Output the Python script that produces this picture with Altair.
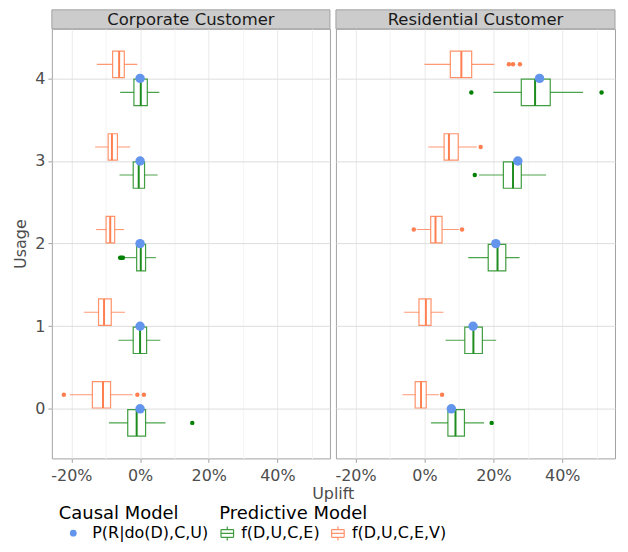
import altair as alt
import pandas as pd

usage = [0, 1, 2, 3, 4]
panel_names = ["Corporate Customer", "Residential Customer"]
model_E = "f(D,U,C,E)"
model_EV = "f(D,U,C,E,V)"
causal_name = "P(R|do(D),C,U)"

# (whisker low, Q1, median, Q3, whisker high) for usage 0..4
corp_E = [(-0.091, -0.036, -0.010, 0.016, 0.074),
          (-0.063, -0.020, 0.000, 0.019, 0.059),
          (-0.044, -0.010, 0.002, 0.016, 0.046),
          (-0.060, -0.020, -0.004, 0.013, 0.051),
          (-0.058, -0.018, 0.002, 0.021, 0.056)]
corp_EV = [(-0.205, -0.139, -0.108, -0.086, -0.022),
           (-0.163, -0.121, -0.105, -0.084, -0.044),
           (-0.128, -0.099, -0.087, -0.074, -0.047),
           (-0.131, -0.093, -0.082, -0.066, -0.029),
           (-0.126, -0.080, -0.061, -0.046, -0.008)]
res_E = [(0.019, 0.068, 0.090, 0.116, 0.173),
         (0.061, 0.117, 0.142, 0.168, 0.208),
         (0.127, 0.185, 0.212, 0.236, 0.276),
         (0.158, 0.229, 0.257, 0.281, 0.353),
         (0.200, 0.281, 0.321, 0.365, 0.460)]
res_EV = [(-0.064, -0.027, -0.010, 0.005, 0.042),
          (-0.059, -0.016, 0.004, 0.019, 0.055),
          (-0.022, 0.018, 0.032, 0.051, 0.100),
          (0.011, 0.057, 0.071, 0.098, 0.152),
          (0.000, 0.075, 0.107, 0.137, 0.203)]

# outliers per usage 0..4
corp_E_out = [[0.152], [], [-0.058, -0.054, -0.050], [], []]
corp_EV_out = [[-0.222, -0.008, 0.011], [], [], [], []]
res_E_out = [[0.195], [], [], [0.146], [0.136, 0.514]]
res_EV_out = [[0.051], [], [-0.031, 0.109], [0.163], [0.245, 0.257, 0.277]]

# causal model estimates per usage 0..4
corp_causal = [0.0, 0.0, 0.0, 0.0, 0.0]
res_causal = [0.078, 0.141, 0.207, 0.271, 0.334]

x_title = "Uplift"
y_title = "Usage"

# ---- build tables ----
OFFSET = {model_E: -0.17, model_EV: 0.17}
HALF = 0.16

box_rows, out_rows, causal_rows = [], [], []
for pname, sets, outs, caus in [
    (panel_names[0], {model_E: corp_E, model_EV: corp_EV}, {model_E: corp_E_out, model_EV: corp_EV_out}, corp_causal),
    (panel_names[1], {model_E: res_E, model_EV: res_EV}, {model_E: res_E_out, model_EV: res_EV_out}, res_causal),
]:
    for m, stats in sets.items():
        for u, (lo, q1, med, q3, hi) in zip(usage, stats):
            yc = u + OFFSET[m]
            box_rows.append(dict(panel=pname, model=m, usage=u, lo=lo, q1=q1, med=med, q3=q3, hi=hi,
                                 y=yc, y_lo=yc - HALF, y_hi=yc + HALF))
        for u, vals in zip(usage, outs[m]):
            for v in vals:
                out_rows.append(dict(panel=pname, omodel=m, usage=u, value=v, y=u + OFFSET[m]))
    for u, v in zip(usage, caus):
        causal_rows.append(dict(panel=pname, cmodel=causal_name, usage=u, value=v))

boxes = pd.DataFrame(box_rows)
outs = pd.DataFrame(out_rows)
causal = pd.DataFrame(causal_rows)

GREEN = "#1E8C1E"
ORANGE = "#FF7F50"
BLUE = "#6495ED"
FONT = "DejaVu Sans"
H = 431
STRIP = 19
WIDTHS = {panel_names[0]: 279, panel_names[1]: 280}

minor_test = "round(datum.value*10) % 2 != 0"
x_values = [-0.2, -0.1, 0.0, 0.1, 0.2, 0.3, 0.4, 0.5]

# legend key: small boxplot glyph built from separate line segments (no fillable area)
box_glyph = ("M-0.9,-0.55H0.9 M-0.9,0.55H0.9 M-0.9,-0.55V0.55 M0.9,-0.55V0.55 "
             "M-0.9,0H0.9 M0,-0.55V-1 M0,0.55V1")

stroke_scale = alt.Scale(domain=[model_E, model_EV], range=[GREEN, ORANGE])
pred_legend = alt.Legend(title="Predictive Model", orient="none", legendX=168, legendY=478,
                         direction="horizontal", columns=2, symbolType=box_glyph, symbolSize=196,
                         symbolStrokeWidth=1.2, symbolFillColor="white", symbolOpacity=0.85,
                         columnPadding=9, labelOffset=6, symbolOffset=0, padding=0, titlePadding=2)
causal_legend = alt.Legend(title="Causal Model", orient="none", legendX=7, legendY=478,
                           direction="horizontal", symbolType="circle", symbolSize=46,
                           labelOffset=11, symbolOffset=6.5, padding=0, titlePadding=2)


def xdef(field):
    axis = alt.Axis(values=x_values, format=".0%", labelPadding=5,
                    labelExpr="(" + minor_test + ") ? '' : replace(datum.label, '\u2212', '-')",
                    gridColor={"condition": {"test": minor_test, "value": "#F4F4F4"}, "value": "#E9E9E9"},
                    tickOpacity={"condition": {"test": minor_test, "value": 0}, "value": 1},
                    title=None)
    return alt.X(field, type="quantitative",
                 scale=alt.Scale(domain=[-0.257, 0.553], nice=False, zero=False), axis=axis)


def ydef(field, first):
    if first:
        axis = alt.Axis(values=usage, title=y_title, titlePadding=6, labelPadding=3)
    else:
        axis = alt.Axis(values=usage, title=None, labels=False, ticks=False)
    return alt.Y(field, type="quantitative",
                 scale=alt.Scale(domain=[-0.6, 4.6], nice=False, zero=False), axis=axis)


def make_panel(name, first):
    b = boxes[boxes.panel == name]
    o = outs[outs.panel == name]
    c = causal[causal.panel == name]
    s = pd.DataFrame({"panel": [name], "xt": [x_title]})
    W = WIDTHS[name]
    stroke = alt.Stroke("model:N", scale=stroke_scale, legend=pred_legend)

    whisk = alt.Chart(b).mark_rule(strokeWidth=1.1, strokeOpacity=0.8).encode(
        x=xdef("lo"), x2="hi", y=ydef("y", first), stroke=stroke)
    box = alt.Chart(b).mark_rect(fill="white", strokeWidth=1.2, strokeOpacity=0.85).encode(
        x=xdef("q1"), x2="q3", y=ydef("y_lo", first), y2="y_hi", stroke=stroke)
    med = alt.Chart(b).mark_rule(strokeWidth=2).encode(
        x=xdef("med"), y=ydef("y_lo", first), y2="y_hi", stroke=stroke)
    outl = alt.Chart(o).mark_circle(size=20, opacity=1).encode(
        x=xdef("value"), y=ydef("y", first),
        fill=alt.Fill("omodel:N", scale=alt.Scale(domain=[model_E, model_EV], range=["#008000", ORANGE]),
                      legend=None))
    cpt = alt.Chart(c).mark_circle(size=90, opacity=1).encode(
        x=xdef("value"), y=ydef("usage", first),
        color=alt.Color("cmodel:N", scale=alt.Scale(domain=[causal_name], range=[BLUE]),
                        legend=causal_legend))
    strip_bg = alt.Chart(s).mark_rect(fill="#CCCCCC", stroke="#A3A3A3", strokeWidth=1).encode(
        x=alt.value(0), x2=alt.value(W), y=alt.value(-STRIP), y2=alt.value(0))
    strip_tx = alt.Chart(s).mark_text(font=FONT, fontSize=16.5, color="#1A1A1A",
                                      align="center", baseline="middle").encode(
        x=alt.value(W / 2), y=alt.value(-STRIP / 2 + 0.5), text="panel:N")
    layers = [whisk, box, med, outl, cpt, strip_bg, strip_tx]
    if first:
        xt = alt.Chart(s).mark_text(font=FONT, fontSize=16, color="#4D4D4D",
                                    align="center", baseline="middle").encode(
            x=alt.value(282.3), y=alt.value(H + 36), text="xt:N")
        layers.append(xt)
    return alt.layer(*layers).properties(width=W, height=H)


chart = alt.hconcat(make_panel(panel_names[0], True), make_panel(panel_names[1], False),
                    spacing=6, bounds="flush")
chart = chart.resolve_scale(color="shared", stroke="shared", fill="shared").resolve_legend(
    color="shared", stroke="shared").properties(
    padding={"left": 4, "top": 0, "right": 4, "bottom": 0}
).configure_view(stroke="#A3A3A3", strokeWidth=1).configure_axis(
    labelFont=FONT, titleFont=FONT, labelFontSize=16, titleFontSize=16,
    labelColor="#4D4D4D", titleColor="#4D4D4D", titleFontWeight="normal",
    tickColor="#A3A3A3", tickSize=4, domain=False, labelPadding=2
).configure_legend(
    labelFont=FONT, titleFont=FONT, labelFontSize=16, titleFontSize=18,
    titleFontWeight="normal", titleColor="#000000", labelColor="#000000"
)

chart.save("out.html", embed_options={"renderer": "svg", "actions": False})
